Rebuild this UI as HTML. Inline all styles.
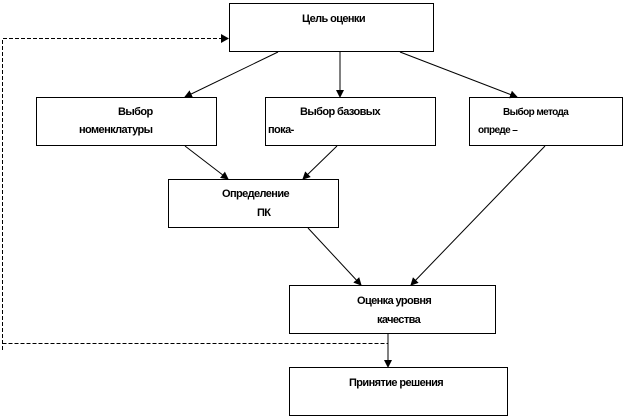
<!DOCTYPE html>
<html><head><meta charset="utf-8"><style>
body{margin:0;width:628px;height:419px;background:#fff;position:relative;overflow:hidden}
svg{position:absolute;left:0;top:0}
.t{position:absolute;font-family:"Liberation Sans",sans-serif;font-weight:bold;font-size:11px;letter-spacing:-0.6px;color:#000;white-space:nowrap;line-height:12px}
</style></head><body>
<svg width="628" height="419" viewBox="0 0 628 419">
<defs><marker id="a" markerWidth="8" markerHeight="8" refX="7" refY="4" orient="auto" markerUnits="userSpaceOnUse"><path d="M0,0 L8,4 L0,8 z" fill="#000"/></marker></defs>
<g fill="#fff" stroke="#000" stroke-width="1">
<rect x="229.5" y="3.5" width="204" height="48"/>
<rect x="36.5" y="97.5" width="180" height="48"/>
<rect x="265.5" y="97.5" width="170" height="48"/>
<rect x="469.5" y="97.5" width="153" height="48"/>
<rect x="168.5" y="179.5" width="170" height="48"/>
<rect x="289.5" y="285.5" width="206" height="48"/>
<rect x="289.5" y="367.5" width="218" height="48"/>
</g>
<g stroke="#000" stroke-width="1" marker-end="url(#a)">
<line x1="278" y1="52" x2="185" y2="97"/>
<line x1="340" y1="52" x2="340" y2="97"/>
<line x1="400" y1="52" x2="517" y2="97"/>
<line x1="185" y1="146" x2="228" y2="179"/>
<line x1="337" y1="146" x2="303" y2="179"/>
<line x1="545" y1="146" x2="411" y2="285"/>
<line x1="308" y1="228" x2="361" y2="285"/>
<line x1="388" y1="334" x2="388" y2="367"/>
</g>
<g stroke="#000" stroke-width="1" fill="none" stroke-dasharray="4,2">
<path d="M2.5,350 V38.5 H222"/>
<path d="M2.5,343.5 H388"/>
</g>
<path d="M221,34 L229,38.5 L221,43 z" fill="#000"/>
</svg>
<div class="t" style="left:302px;top:13px">Цель оценки</div>
<div class="t" style="left:118px;top:106px">Выбор</div>
<div class="t" style="left:79px;top:124px">номенклатуры</div>
<div class="t" style="left:300px;top:106px">Выбор базовых</div>
<div class="t" style="left:268px;top:124px">пока-</div>
<div class="t" style="left:503px;top:107px;font-size:10px">Выбор метода</div>
<div class="t" style="left:478px;top:125px;font-size:10px">опреде –</div>
<div class="t" style="left:222px;top:188px">Определение</div>
<div class="t" style="left:257px;top:207px">ПК</div>
<div class="t" style="left:357px;top:295px">Оценка уровня</div>
<div class="t" style="left:377px;top:314px">качества</div>
<div class="t" style="left:349px;top:377px">Принятие решения</div>
</body></html>
